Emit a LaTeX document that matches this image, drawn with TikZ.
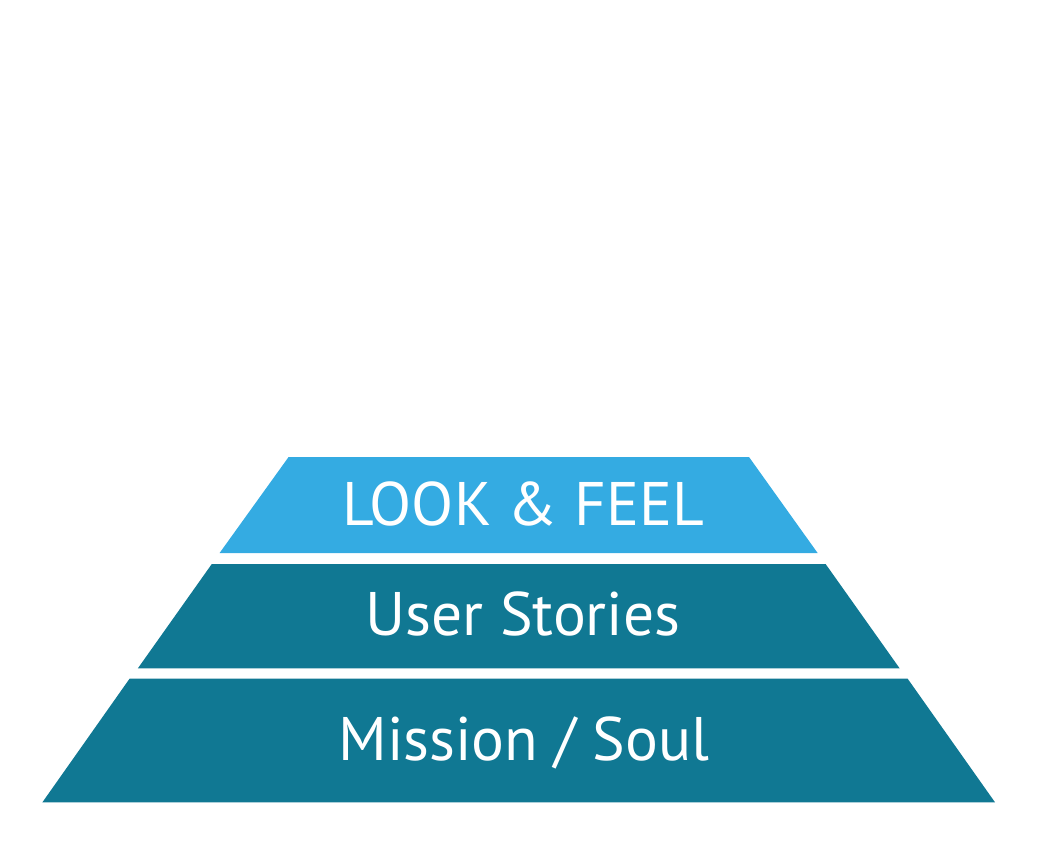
\documentclass[tikz,border=0pt]{standalone}
\usepackage{fontspec}
\setmainfont{PT Sans}
\usetikzlibrary{positioning}
\definecolor{lookblue}{RGB}{52,171,226}
\definecolor{layerteal}{RGB}{16,120,147}

\begin{document}
\begin{tikzpicture}[x=0.02cm,y=-0.02cm,
  top/.style={fill=lookblue,draw=none},
  layer/.style={fill=layerteal,draw=none},
  lbl/.style={text=white,anchor=base,inner sep=0pt,font=\fontsize{35}{40}\selectfont}]
\useasboundingbox (0,0) rectangle (1043,861);
% pyramid layers
\path[top] (288.6,457) -- (749,457) -- (817.6,553) -- (219.6,553) -- cycle;
\path[layer] (211.8,564) -- (825.6,564) -- (899.6,668.3) -- (137.9,668.3) -- cycle;
\path[layer] (129.7,678.5) -- (907.5,678.5) -- (995,802.3) -- (42.4,802.3) -- cycle;
% labels
\node[lbl] (look) at (523,525.7) {LOOK \& FEEL};
\node[lbl] (stories) at (523,635.7) {User Stories};
\node[lbl] (mission) at (524,760) {Mission / Soul};
\end{tikzpicture}
\end{document}
